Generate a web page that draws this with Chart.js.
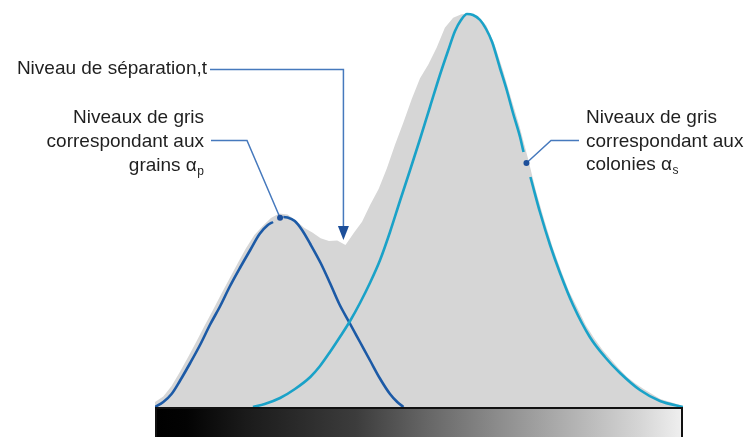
<!DOCTYPE html>
<html>
<head>
<meta charset="utf-8">
<script src="https://cdn.jsdelivr.net/npm/chart.js@4/dist/chart.umd.min.js"></script>
<style>
  html, body { margin: 0; padding: 0; background: #ffffff; }
  canvas { display: block; }
</style>
</head>
<body>
<canvas id="c" width="750" height="437"></canvas>
<script>
// Grey-level histogram (level 0..255, relative frequency)
const histLevels = [0, 4, 8, 12, 16, 20, 24, 28, 32, 36, 40, 44, 48, 52, 56, 60, 64, 68, 72, 76,
  80, 84, 88, 92, 96, 100, 104, 108, 112, 116, 120, 124, 128, 132, 136, 140, 144, 148, 152, 156,
  160, 164, 168, 172, 176, 180, 184, 188, 192, 196, 200, 204, 208, 212, 216, 220, 224, 228, 232, 236,
  240, 244, 248, 252, 255];
const histCounts = [1.25, 2.6, 5.25, 8.75, 12.5, 16.4, 20.4, 24.25, 28.25, 32.1, 36, 39.75, 43, 45.25, 47.25, 48.4, 48.1, 46.6, 44.8, 43.6,
  42.2, 41.5, 41.6, 40.5, 43.5, 46.3, 50.6, 54.5, 59.7, 65.7, 71.2, 77.0, 82.2, 85.6, 89.8, 94.8, 97.3, 98.2, 98.4, 97.75,
  95.4, 90.6, 84.25, 77.1, 70.25, 62.4, 54, 46.75, 40, 34.25, 28.9, 24.75, 20.5, 17.25, 14.4, 12, 9.6, 7.5, 5.9, 4.5,
  3.25, 2, 1.4, 0.75, 0.3];

// Fitted mode for the grains (alpha p)
const grainLevels = [0, 4, 8, 12, 17, 22, 26.5, 31.5, 36, 41, 46, 50.5, 54.5, 57, 60.4, 62, 64, 67.5, 71, 75,
  80, 84.5, 89, 94, 99, 104, 108.5, 113.5, 117, 120];
const grainCounts = [0, 1.25, 3.25, 6.5, 11, 15.75, 20.5, 25.25, 30, 34.75, 39.25, 43.25, 45.5, 46.25, 47.3, 47.5, 47.4, 46.5, 44.25, 40.75,
  36, 31, 25.75, 21, 16.25, 11.5, 7.25, 3.25, 1.25, 0];
const grainMarkerLevel = 60.4;

// Fitted mode for the colonies (alpha s)
const colonyLevels = [47.3, 53, 60.4, 67.6, 75, 79.7, 84.5, 89.3, 94.2, 99, 103.8, 108.7, 113.5, 118.3, 123.2, 128, 132.8, 137.6, 141.5, 144.9,
  147.8, 150.7, 153.6, 157, 159.9, 162.8, 166.6, 170, 172.9, 176.3, 178, 179.4, 181.3, 185.9, 190.8, 195.6, 201.9, 210, 217.3, 224.6,
  234.2, 243.9, 255];
const colonyCounts = [0, 0.75, 2.25, 4.5, 7.5, 10.25, 13.75, 17.5, 21.5, 26, 31, 36.75, 43.75, 51.5, 59.25, 67, 75, 83, 89, 94,
  96.75, 98.25, 98, 96.75, 94.5, 91.25, 84.75, 79, 73.5, 67.5, 63.75, 61, 57.5, 48.75, 40.5, 33.5, 25.5, 17.5, 12.5, 8.5,
  4.25, 1.5, 0];
const colonyMarkerLevel = 179.4;

// Separation threshold t
const thresholdLevel = 91;

const labelSeparation = 'Niveau de séparation,t';
const labelGrains = ['Niveaux de gris', 'correspondant aux', 'grains α'];
const labelColonies = ['Niveaux de gris', 'correspondant aux', 'colonies α'];
const subGrains = 'p';
const subColonies = 's';

const toPoints = (xs, ys) => xs.map((x, i) => ({ x: x, y: ys[i] }));
const grainMarkerIdx = grainLevels.indexOf(grainMarkerLevel);
const colonyMarkerIdx = colonyLevels.indexOf(colonyMarkerLevel);

// Leave the curve open right around its marker dot
const gapAround = (idx) => (ctx) =>
  (ctx.p0DataIndex === idx || ctx.p1DataIndex === idx) ? 'rgba(0,0,0,0)' : undefined;

const FONT = '19px "Liberation Sans", Arial, Helvetica, sans-serif';
const SUBFONT = '12px "Liberation Sans", Arial, Helvetica, sans-serif';
const TEXT = '#1f1f1f';
const LEADER = '#4679bd';
const MARK = '#1d4f9a';

// Grey-scale strip under the histogram
const greyStrip = {
  id: 'greyStrip',
  afterDatasetsDraw(chart) {
    const { ctx, chartArea } = chart;
    const l = chartArea.left, r = chartArea.right, t = chartArea.bottom;
    const b = chart.height + 4;
    const g = ctx.createLinearGradient(l, 0, r, 0);
    g.addColorStop(0, '#000000');
    g.addColorStop(0.06, '#030303');
    g.addColorStop(0.17, '#1a1a1a');
    g.addColorStop(0.38, '#3c3c3c');
    g.addColorStop(0.515, '#666666');
    g.addColorStop(0.65, '#8c8c8c');
    g.addColorStop(0.79, '#b2b2b2');
    g.addColorStop(0.92, '#d6d6d6');
    g.addColorStop(1, '#f0f0f0');
    ctx.save();
    ctx.fillStyle = g;
    ctx.fillRect(l, t, r - l, b - t);
    ctx.strokeStyle = '#111111';
    ctx.lineWidth = 2;
    ctx.strokeRect(l + 1, t + 1, r - l - 2, b - t);
    ctx.restore();
  }
};

// Labels, leader lines and markers
const callouts = {
  id: 'callouts',
  afterDraw(chart) {
    const { ctx } = chart;
    const xs = chart.scales.x, ys = chart.scales.y;
    const grainPt = chart.getDatasetMeta(1).data[grainMarkerIdx];
    const colonyPt = chart.getDatasetMeta(2).data[colonyMarkerIdx];
    const thrX = xs.getPixelForValue(thresholdLevel);
    const thrIdx = histLevels.findIndex(v => v >= thresholdLevel);
    const tipY = ys.getPixelForValue(histCounts[thrIdx]) - 5;

    ctx.save();
    ctx.font = FONT;
    ctx.fillStyle = TEXT;
    ctx.textBaseline = 'alphabetic';

    // Threshold label and arrow
    ctx.textAlign = 'right';
    ctx.fillText(labelSeparation, 207, 74);
    ctx.strokeStyle = LEADER;
    ctx.lineWidth = 1.5;
    ctx.beginPath();
    ctx.moveTo(210, 69.5);
    ctx.lineTo(thrX, 69.5);
    ctx.lineTo(thrX, tipY - 12);
    ctx.stroke();
    ctx.fillStyle = MARK;
    ctx.beginPath();
    ctx.moveTo(thrX - 5.5, tipY - 14);
    ctx.lineTo(thrX + 5.5, tipY - 14);
    ctx.lineTo(thrX, tipY);
    ctx.closePath();
    ctx.fill();

    // Grains label (right aligned)
    ctx.fillStyle = TEXT;
    const leftEdge = 204;
    ctx.font = SUBFONT;
    const subW1 = ctx.measureText(subGrains).width;
    ctx.font = FONT;
    ctx.textAlign = 'right';
    ctx.fillText(labelGrains[0], leftEdge, 123);
    ctx.fillText(labelGrains[1], leftEdge, 147);
    ctx.fillText(labelGrains[2], leftEdge - subW1 - 0.5, 171);
    ctx.font = SUBFONT;
    ctx.textAlign = 'left';
    ctx.fillText(subGrains, leftEdge - subW1, 175);

    ctx.strokeStyle = LEADER;
    ctx.lineWidth = 1.5;
    ctx.beginPath();
    ctx.moveTo(211, 140.5);
    ctx.lineTo(247, 140.5);
    ctx.lineTo(grainPt.x, grainPt.y);
    ctx.stroke();

    // Colonies label (left aligned)
    ctx.font = FONT;
    ctx.fillStyle = TEXT;
    ctx.textAlign = 'left';
    const rx = 586;
    ctx.fillText(labelColonies[0], rx, 123);
    ctx.fillText(labelColonies[1], rx, 147);
    ctx.fillText(labelColonies[2], rx, 170);
    const w3 = ctx.measureText(labelColonies[2]).width;
    ctx.font = SUBFONT;
    ctx.fillText(subColonies, rx + w3 + 0.5, 174);

    ctx.strokeStyle = LEADER;
    ctx.beginPath();
    ctx.moveTo(579, 140.5);
    ctx.lineTo(551, 140.5);
    ctx.lineTo(colonyPt.x, colonyPt.y);
    ctx.stroke();

    // Marker dots
    ctx.fillStyle = MARK;
    [grainPt, colonyPt].forEach(p => {
      ctx.beginPath();
      ctx.arc(p.x, p.y, 3, 0, Math.PI * 2);
      ctx.fill();
    });
    ctx.restore();
  }
};

new Chart(document.getElementById('c'), {
  type: 'line',
  data: {
    datasets: [
      {
        label: 'Histogramme',
        data: toPoints(histLevels, histCounts),
        fill: 'origin',
        backgroundColor: '#d6d6d6',
        borderWidth: 0,
        borderColor: 'rgba(0,0,0,0)',
        tension: 0,
        pointRadius: 0,
        order: 3
      },
      {
        label: 'Grains',
        data: toPoints(grainLevels, grainCounts),
        fill: false,
        borderColor: '#1c5aa6',
        borderWidth: 2.6,
        cubicInterpolationMode: 'monotone',
        pointRadius: 0,
        segment: { borderColor: gapAround(grainMarkerIdx) },
        order: 2
      },
      {
        label: 'Colonies',
        data: toPoints(colonyLevels, colonyCounts),
        fill: false,
        borderColor: '#1aa2c8',
        borderWidth: 2.6,
        cubicInterpolationMode: 'monotone',
        pointRadius: 0,
        segment: { borderColor: gapAround(colonyMarkerIdx) },
        order: 1
      }
    ]
  },
  options: {
    responsive: false,
    animation: false,
    devicePixelRatio: 1,
    layout: { padding: { left: 155, right: 67, top: 7, bottom: 30 } },
    scales: {
      x: { type: 'linear', min: 0, max: 255, display: false },
      y: { min: 0, max: 100, display: false }
    },
    plugins: {
      legend: { display: false },
      tooltip: { enabled: false }
    }
  },
  plugins: [greyStrip, callouts]
});
</script>
</body>
</html>
